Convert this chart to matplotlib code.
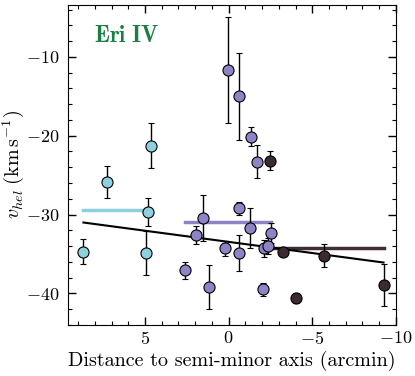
import numpy as np
import matplotlib
matplotlib.use("Agg")
import matplotlib.pyplot as plt
from matplotlib.ticker import MultipleLocator

plt.rcParams['font.family'] = 'serif'
plt.rcParams['font.serif'] = ['cmr10']
plt.rcParams['mathtext.fontset'] = 'cm'
plt.rcParams['axes.formatter.use_mathtext'] = True

# distance to semi-minor axis (arcmin), velocity, error -- per group
x_cyan = [8.68, 7.3, 4.67, 4.85, 4.97]
v_cyan = [-34.7, -25.9, -21.3, -29.7, -34.9]
e_cyan = [1.6, 2.0, 2.85, 1.8, 2.8]

x_purple = [0.04, -0.64, -1.34, -1.7, 1.98, 1.51, 2.62, 1.2, 0.22, -0.6, -0.64, -1.3, -2.1, -2.35, -2.53, -2.04]
v_purple = [-11.7, -15.0, -20.1, -23.3, -32.6, -30.4, -37.1, -39.2, -34.3, -34.9, -29.2, -31.7, -34.3, -34.0, -32.4, -39.5]
e_purple = [6.7, 5.5, 1.2, 2.1, 1.15, 2.9, 1.1, 2.8, 1.0, 2.3, 0.8, 2.5, 1.1, 1.0, 1.27, 0.85]

x_dark = [-2.46, -3.23, -4.05, -5.73, -9.26]
v_dark = [-23.2, -34.8, -40.6, -35.2, -38.9]
e_dark = [1.2, 0.3, 0.6, 1.4, 2.65]

# group mean velocities and the gradient fit
mean_cyan, mean_purple, mean_dark = -29.4, -31.0, -34.2
fit_b, fit_a = 0.283, -33.47

c_cyan = '#8ed0de'
c_purple = '#8e83c6'
c_dark = '#3b2a2f'

fig = plt.figure(figsize=(4.15, 3.76), dpi=100)
ax = fig.add_axes([0.164, 0.136, 0.79, 0.851])

# horizontal mean lines over each group's range
ax.plot([min(x_cyan), max(x_cyan)], [mean_cyan] * 2, color=c_cyan, lw=2.5, zorder=1)
ax.plot([min(x_purple), max(x_purple)], [mean_purple] * 2, color=c_purple, lw=2.5, zorder=1)
ax.plot([min(x_dark), max(x_dark)], [mean_dark] * 2, color='#3f2f34', lw=2.5, zorder=1)

# gradient line
all_x = x_cyan + x_purple + x_dark
xf = np.array([min(all_x), max(all_x)])
ax.plot(xf, fit_a + fit_b * xf, color='black', lw=1.5, zorder=2)

for xs, vs, es, c in [(x_cyan, v_cyan, e_cyan, c_cyan),
                      (x_purple, v_purple, e_purple, c_purple),
                      (x_dark, v_dark, e_dark, c_dark)]:
    ax.errorbar(xs, vs, yerr=es, fmt='o', ms=8, mfc=c, mec='black', mew=0.8,
                ecolor='black', elinewidth=1.0, capsize=2.5, capthick=1.0, zorder=3)

ax.set_xlim(9.6, -10)
ax.set_ylim(-44, -3.4)
ax.xaxis.set_major_locator(MultipleLocator(5))
ax.xaxis.set_minor_locator(MultipleLocator(1))
ax.yaxis.set_major_locator(MultipleLocator(10))
ax.yaxis.set_minor_locator(MultipleLocator(2))
ax.tick_params(which='both', direction='in', top=True, right=True, labelsize=13)
ax.tick_params(which='major', length=6, width=1)
ax.tick_params(which='minor', length=3, width=0.8)
ax.tick_params(axis='y', which='major', pad=6)

ax.set_xlabel('Distance to semi-minor axis (arcmin)', fontsize=14.5, labelpad=3)
ax.set_ylabel(r'$v_{hel}\;(\mathrm{km\,s^{-1}})$', fontsize=14.5, va='center')
ax.yaxis.set_label_coords(-0.168, 0.5)

ax.text(0.08, 0.905, r'$\mathbf{Eri\ IV}$', transform=ax.transAxes, color='#1a7f45',
        fontsize=16.5, ha='left', va='center')

fig.savefig('out.png', dpi=100)
